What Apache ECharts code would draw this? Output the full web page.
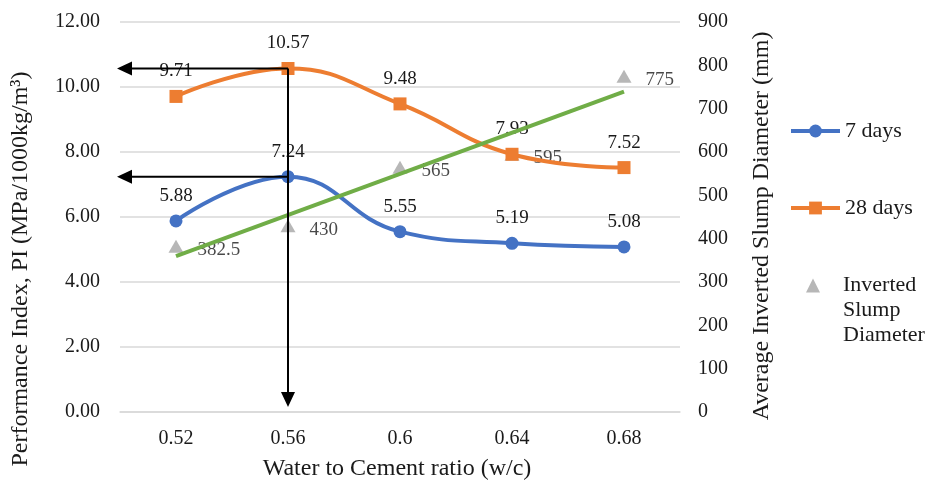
<!DOCTYPE html>
<html>
<head>
<meta charset="utf-8">
<script src="https://cdn.jsdelivr.net/npm/echarts@6/dist/echarts.min.js"></script>
<style>
html, body { margin: 0; padding: 0; background: #fff; }
#chart { width: 925px; height: 482px; }
</style>
</head>
<body>
<div id="chart"></div>
<script>
// values
var wcRatio = ['0.52', '0.56', '0.6', '0.64', '0.68'];
var pi7Days = [5.88, 7.24, 5.55, 5.19, 5.08];
var pi28Days = [9.71, 10.57, 9.48, 7.93, 7.52];
var slumpDiameter = [382.5, 430, 565, 595, 775];
// linear trendline of the slump, only its two ends
var slumpTrend = [359.5, null, null, null, 739.5];
var peakIndex = 1;

var FONT = 'Liberation Serif';
var INK = '#1a1a1a';
var gridLeft = 120, gridRight = 245, gridTop = 22, gridBottom = 70;

var chart = echarts.init(document.getElementById('chart'));

var legendText = { fontFamily: FONT, fontSize: 22, color: INK };

var option = {
    backgroundColor: '#fff',
    animation: false,
    textStyle: { fontFamily: FONT, color: INK },
    grid: { left: gridLeft, right: gridRight, top: gridTop, bottom: gridBottom, containLabel: false, outerBoundsMode: 'none' },
    legend: [
        {
            data: ['7 days'], orient: 'vertical', left: 789, top: 120, padding: 0,
            itemWidth: 49, itemHeight: 16, itemGap: 0,
            lineStyle: { width: 4 },
            textStyle: legendText
        },
        {
            data: ['28 days'], orient: 'vertical', left: 789, top: 197, padding: 0,
            itemWidth: 49, itemHeight: 16, itemGap: 0,
            lineStyle: { width: 4 },
            textStyle: legendText
        },
        {
            data: ['Inverted Slump Diameter'], orient: 'vertical', left: 806, top: 223, padding: 0,
            itemWidth: 14, itemHeight: 14, itemGap: 0,
            formatter: function () { return '\n\nInverted\nSlump\nDiameter'; },
            textStyle: { fontFamily: FONT, fontSize: 22, lineHeight: 25, color: INK, padding: [0, 0, 0, 18] }
        }
    ],
    xAxis: {
        type: 'category',
        data: wcRatio,
        name: 'Water to Cement ratio (w/c)',
        nameLocation: 'middle',
        nameGap: 45,
        nameTextStyle: { fontFamily: FONT, fontSize: 24, color: INK, padding: [0, 6, 0, 0] },
        axisLine: { lineStyle: { color: '#d9d9d9', width: 1.5 } },
        axisTick: { show: false },
        axisLabel: { fontFamily: FONT, fontSize: 20, color: INK, margin: 17 }
    },
    yAxis: [
        {
            type: 'value', min: 0, max: 12, interval: 2,
            name: 'Performance Index, PI (MPa/1000kg/m\u00b3)',
            nameLocation: 'middle', nameRotate: 90, nameGap: 87,
            nameTextStyle: { fontFamily: FONT, fontSize: 24, color: INK, padding: [0, 104, 0, 0] },
            axisLine: { show: false },
            axisTick: { show: false },
            axisLabel: {
                fontFamily: FONT, fontSize: 20, color: INK, margin: 20,
                formatter: function (v) { return v.toFixed(2); }
            },
            splitLine: { lineStyle: { color: '#d9d9d9', width: 1.5 } }
        },
        {
            type: 'value', min: 0, max: 900, interval: 100,
            name: 'Average Inverted Slump Diameter (mm)',
            nameLocation: 'middle', nameRotate: 90, nameGap: 70,
            nameTextStyle: { fontFamily: FONT, fontSize: 24, color: INK, padding: [0, 18, 0, 0] },
            axisLine: { show: false },
            axisTick: { show: false },
            axisLabel: { fontFamily: FONT, fontSize: 20, color: INK, margin: 18 },
            splitLine: { show: false }
        }
    ],
    series: [
        {
            name: '7 days', type: 'line', data: pi7Days,
            smooth: 0.45,
            symbol: 'circle', symbolSize: 13,
            itemStyle: { color: '#4472C4' },
            lineStyle: { color: '#4472C4', width: 4 },
            label: { show: true, position: 'top', distance: 9, fontFamily: FONT, fontSize: 19, color: INK,
                     formatter: function (p) { return p.value.toFixed(2); } },
            z: 3
        },
        {
            name: '28 days', type: 'line', data: pi28Days,
            smooth: 0.45,
            symbol: 'rect', symbolSize: 13,
            itemStyle: { color: '#ED7D31' },
            lineStyle: { color: '#ED7D31', width: 4 },
            label: { show: true, position: 'top', distance: 9, fontFamily: FONT, fontSize: 19, color: INK,
                     formatter: function (p) { return p.value.toFixed(2); } },
            z: 3
        },
        {
            name: 'Inverted Slump Diameter', type: 'scatter', yAxisIndex: 1, data: slumpDiameter,
            symbol: 'triangle', symbolSize: [15, 13],
            itemStyle: { color: '#A5A5A5' },
            label: { show: true, position: 'right', distance: 14, offset: [0, 4], fontFamily: FONT, fontSize: 19, color: INK },
            z: 2
        },
        {
            name: 'trend', type: 'line', yAxisIndex: 1, data: slumpTrend,
            connectNulls: true, symbol: 'none',
            lineStyle: { color: '#70AD47', width: 4 },
            z: 4
        }
    ]
};
chart.setOption(option);

// arrows from the peak value, placed through the chart's own scales
function arrows() {
    var p28 = chart.convertToPixel({ xAxisIndex: 0, yAxisIndex: 0 }, [peakIndex, pi28Days[peakIndex]]);
    var p7 = chart.convertToPixel({ xAxisIndex: 0, yAxisIndex: 0 }, [peakIndex, pi7Days[peakIndex]]);
    var p0 = chart.convertToPixel({ xAxisIndex: 0, yAxisIndex: 0 }, [peakIndex, 0]);
    var tipX = gridLeft - 3;
    var tipY = p0[1] - 5;
    var head = 15, half = 7;
    var style = { stroke: '#000', lineWidth: 2 };
    var els = [];
    [p28, p7].forEach(function (p) {
        els.push({ type: 'line', shape: { x1: p[0], y1: p[1], x2: tipX + head, y2: p[1] }, style: style, z: 100 });
        els.push({ type: 'polygon', shape: { points: [[tipX, p[1]], [tipX + head, p[1] - half], [tipX + head, p[1] + half]] },
                   style: { fill: '#000' }, z: 100 });
    });
    els.push({ type: 'line', shape: { x1: p28[0], y1: p28[1], x2: p28[0], y2: tipY - head }, style: style, z: 100 });
    els.push({ type: 'polygon', shape: { points: [[p28[0], tipY], [p28[0] - half, tipY - head], [p28[0] + half, tipY - head]] },
               style: { fill: '#000' }, z: 100 });
    chart.setOption({ graphic: els });
}
arrows();
</script>
</body>
</html>
